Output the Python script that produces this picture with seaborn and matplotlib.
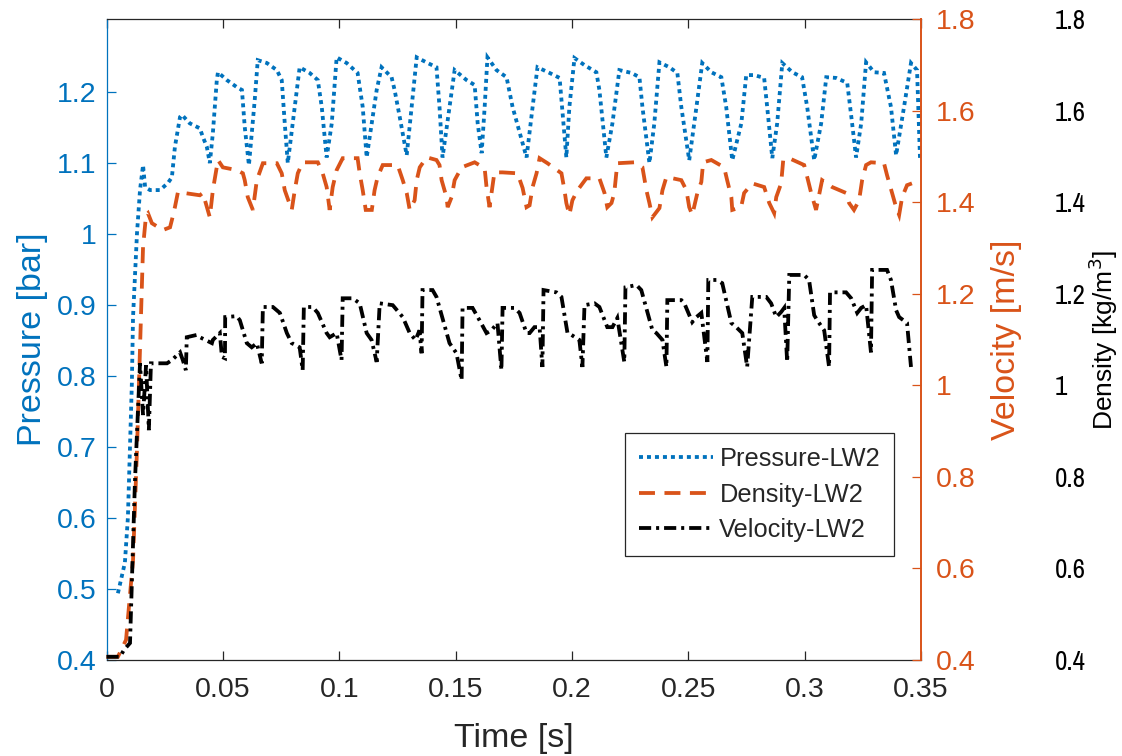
import matplotlib
matplotlib.use("Agg")
import matplotlib.pyplot as plt
import matplotlib.font_manager as fm
from matplotlib.font_manager import FontProperties
import seaborn as sns
import pandas as pd
from matplotlib.ticker import FixedLocator, FixedFormatter

# ---------------- data ----------------
t_pressure = [0.0049, 0.0079, 0.0092, 0.0109, 0.0114, 0.0131, 0.0144, 0.0157, 0.0166, 0.0187,
              0.0230, 0.0264, 0.0281, 0.0294, 0.0316, 0.0324, 0.0358, 0.0401, 0.0414, 0.0431,
              0.0444, 0.0457, 0.0474, 0.0479, 0.0517, 0.0560, 0.0582, 0.0594, 0.0612, 0.0637,
              0.0650, 0.0689, 0.0732, 0.0753, 0.0766, 0.0779, 0.0800, 0.0830, 0.0873, 0.0908,
              0.0925, 0.0946, 0.0968, 0.0989, 0.1032, 0.1079, 0.1101, 0.1118, 0.1161, 0.1182,
              0.1225, 0.1238, 0.1260, 0.1290, 0.1311, 0.1333, 0.1380, 0.1418, 0.1431, 0.1444,
              0.1474, 0.1496, 0.1547, 0.1582, 0.1595, 0.1612, 0.1625, 0.1637, 0.1676, 0.1719,
              0.1745, 0.1805, 0.1831, 0.1852, 0.1904, 0.1947, 0.1976, 0.1989, 0.2011, 0.2054,
              0.2105, 0.2118, 0.2148, 0.2174, 0.2204, 0.2256, 0.2290, 0.2303, 0.2333, 0.2354,
              0.2376, 0.2419, 0.2453, 0.2470, 0.2504, 0.2535, 0.2560, 0.2599, 0.2642, 0.2663,
              0.2689, 0.2728, 0.2749, 0.2783, 0.2826, 0.2839, 0.2861, 0.2882, 0.2904, 0.2947,
              0.2989, 0.3011, 0.3041, 0.3071, 0.3093, 0.3135, 0.3183, 0.3204, 0.3221, 0.3243,
              0.3264, 0.3298, 0.3341, 0.3371, 0.3393, 0.3427, 0.3457, 0.3483, 0.3496]
pressure = [0.494, 0.537, 0.601, 0.790, 0.883, 1.001, 1.062, 1.097, 1.066, 1.062,
            1.062, 1.072, 1.080, 1.123, 1.165, 1.168, 1.156, 1.149, 1.137, 1.123,
            1.100, 1.142, 1.217, 1.228, 1.217, 1.207, 1.203, 1.151, 1.097, 1.189,
            1.245, 1.241, 1.231, 1.217, 1.156, 1.100, 1.156, 1.235, 1.227, 1.217,
            1.179, 1.108, 1.156, 1.249, 1.241, 1.227, 1.179, 1.108, 1.203, 1.235,
            1.221, 1.203, 1.165, 1.111, 1.179, 1.249, 1.241, 1.235, 1.179, 1.108,
            1.179, 1.231, 1.217, 1.210, 1.156, 1.114, 1.179, 1.249, 1.231, 1.221,
            1.179, 1.108, 1.179, 1.235, 1.227, 1.220, 1.108, 1.179, 1.248, 1.238,
            1.228, 1.203, 1.108, 1.156, 1.231, 1.227, 1.221, 1.179, 1.100, 1.156,
            1.242, 1.235, 1.227, 1.179, 1.104, 1.179, 1.241, 1.228, 1.221, 1.179,
            1.104, 1.156, 1.224, 1.224, 1.220, 1.179, 1.107, 1.156, 1.241, 1.228,
            1.221, 1.179, 1.104, 1.156, 1.221, 1.220, 1.213, 1.156, 1.108, 1.156,
            1.242, 1.228, 1.227, 1.179, 1.111, 1.179, 1.241, 1.231, 1.104]

t_density = [0.0000, 0.0049, 0.0084, 0.0114, 0.0131, 0.0144, 0.0157, 0.0170, 0.0178, 0.0195,
             0.0242, 0.0273, 0.0281, 0.0294, 0.0307, 0.0401, 0.0414, 0.0444, 0.0457, 0.0479,
             0.0500, 0.0560, 0.0586, 0.0594, 0.0607, 0.0629, 0.0646, 0.0672, 0.0732, 0.0753,
             0.0766, 0.0796, 0.0809, 0.0822, 0.0843, 0.0908, 0.0929, 0.0946, 0.0959, 0.0972,
             0.0989, 0.1015, 0.1079, 0.1088, 0.1101, 0.1114, 0.1140, 0.1152, 0.1165, 0.1187,
             0.1251, 0.1273, 0.1290, 0.1303, 0.1324, 0.1333, 0.1346, 0.1376, 0.1418, 0.1431,
             0.1440, 0.1461, 0.1466, 0.1483, 0.1496, 0.1526, 0.1582, 0.1625, 0.1633, 0.1646,
             0.1667, 0.1702, 0.1766, 0.1788, 0.1805, 0.1818, 0.1831, 0.1848, 0.1861, 0.1895,
             0.1955, 0.1968, 0.1976, 0.1989, 0.2002, 0.2024, 0.2062, 0.2118, 0.2140, 0.2152,
             0.2170, 0.2182, 0.2195, 0.2268, 0.2303, 0.2320, 0.2333, 0.2346, 0.2376, 0.2389,
             0.2406, 0.2470, 0.2492, 0.2504, 0.2517, 0.2539, 0.2556, 0.2564, 0.2599, 0.2654,
             0.2667, 0.2685, 0.2689, 0.2727, 0.2740, 0.2775, 0.2826, 0.2848, 0.2869, 0.2878,
             0.2899, 0.2908, 0.2933, 0.2998, 0.3011, 0.3028, 0.3049, 0.3075, 0.3118, 0.3178,
             0.3191, 0.3212, 0.3234, 0.3247, 0.3264, 0.3285, 0.3341, 0.3354, 0.3376, 0.3393,
             0.3406, 0.3419, 0.3440, 0.3461]
density = [0.407, 0.407, 0.444, 0.618, 0.859, 1.077, 1.302, 1.372, 1.376, 1.354,
           1.339, 1.345, 1.361, 1.389, 1.422, 1.415, 1.420, 1.367, 1.426, 1.492,
           1.476, 1.470, 1.463, 1.448, 1.411, 1.383, 1.448, 1.485, 1.485, 1.463,
           1.426, 1.383, 1.426, 1.463, 1.487, 1.487, 1.463, 1.433, 1.383, 1.433,
           1.470, 1.496, 1.496, 1.463, 1.426, 1.383, 1.383, 1.426, 1.455, 1.481,
           1.481, 1.448, 1.420, 1.383, 1.404, 1.448, 1.476, 1.498, 1.492, 1.481,
           1.448, 1.411, 1.389, 1.411, 1.448, 1.476, 1.487, 1.474, 1.433, 1.389,
           1.465, 1.465, 1.463, 1.431, 1.389, 1.393, 1.433, 1.463, 1.496, 1.485,
           1.463, 1.426, 1.398, 1.372, 1.404, 1.426, 1.452, 1.452, 1.420, 1.389,
           1.398, 1.420, 1.485, 1.487, 1.476, 1.426, 1.398, 1.367, 1.387, 1.426,
           1.455, 1.448, 1.426, 1.389, 1.372, 1.420, 1.444, 1.487, 1.492, 1.476,
           1.448, 1.411, 1.383, 1.389, 1.420, 1.441, 1.433, 1.398, 1.376, 1.411,
           1.441, 1.492, 1.496, 1.481, 1.455, 1.420, 1.383, 1.448, 1.433, 1.420,
           1.398, 1.383, 1.404, 1.448, 1.481, 1.487, 1.485, 1.459, 1.420, 1.389,
           1.372, 1.411, 1.437, 1.441]

t_velocity = [0.0000, 0.0058, 0.0075, 0.0101, 0.0109, 0.0122, 0.0131, 0.0144, 0.0157, 0.0170,
              0.0182, 0.0191, 0.0260, 0.0281, 0.0316, 0.0328, 0.0341, 0.0345, 0.0388, 0.0401,
              0.0453, 0.0457, 0.0487, 0.0496, 0.0509, 0.0510, 0.0560, 0.0573, 0.0603, 0.0624,
              0.0646, 0.0667, 0.0672, 0.0715, 0.0745, 0.0775, 0.0796, 0.0830, 0.0843, 0.0848,
              0.0886, 0.0908, 0.0946, 0.0959, 0.0989, 0.1010, 0.1015, 0.1058, 0.1088, 0.1118,
              0.1139, 0.1161, 0.1174, 0.1230, 0.1273, 0.1303, 0.1328, 0.1345, 0.1354, 0.1358,
              0.1401, 0.1418, 0.1474, 0.1504, 0.1526, 0.1530, 0.1573, 0.1603, 0.1633, 0.1654,
              0.1680, 0.1697, 0.1702, 0.1753, 0.1775, 0.1805, 0.1818, 0.1839, 0.1861, 0.1873,
              0.1878, 0.1933, 0.1955, 0.1981, 0.1998, 0.2032, 0.2045, 0.2054, 0.2097, 0.2118,
              0.2152, 0.2174, 0.2195, 0.2225, 0.2230, 0.2277, 0.2298, 0.2346, 0.2363, 0.2389,
              0.2406, 0.2410, 0.2470, 0.2483, 0.2517, 0.2535, 0.2556, 0.2582, 0.2586, 0.2624,
              0.2646, 0.2685, 0.2706, 0.2732, 0.2753, 0.2775, 0.2835, 0.2856, 0.2878, 0.2899,
              0.2912, 0.2925, 0.2934, 0.2998, 0.3019, 0.3041, 0.3054, 0.3084, 0.3105, 0.3109,
              0.3178, 0.3200, 0.3226, 0.3243, 0.3264, 0.3285, 0.3290, 0.3354, 0.3371, 0.3393,
              0.3406, 0.3440, 0.3457]
velocity = [0.407, 0.407, 0.422, 0.437, 0.568, 0.786, 0.896, 1.048, 0.935, 1.044,
            0.902, 1.048, 1.048, 1.055, 1.072, 1.055, 1.033, 1.105, 1.110, 1.105,
            1.092, 1.099, 1.114, 1.062, 1.059, 1.149, 1.151, 1.142, 1.092, 1.083,
            1.092, 1.048, 1.171, 1.171, 1.158, 1.114, 1.092, 1.083, 1.033, 1.171,
            1.171, 1.158, 1.114, 1.105, 1.114, 1.055, 1.190, 1.190, 1.179, 1.114,
            1.099, 1.051, 1.179, 1.175, 1.149, 1.114, 1.099, 1.120, 1.070, 1.208,
            1.208, 1.193, 1.092, 1.070, 1.011, 1.169, 1.169, 1.142, 1.114, 1.120,
            1.136, 1.033, 1.169, 1.169, 1.158, 1.114, 1.114, 1.127, 1.127, 1.040,
            1.208, 1.203, 1.193, 1.114, 1.110, 1.099, 1.040, 1.175, 1.179, 1.171,
            1.127, 1.127, 1.147, 1.051, 1.214, 1.219, 1.208, 1.120, 1.114, 1.099,
            1.040, 1.186, 1.186, 1.179, 1.138, 1.149, 1.158, 1.051, 1.230, 1.230,
            1.223, 1.136, 1.127, 1.114, 1.040, 1.193, 1.193, 1.179, 1.149, 1.160,
            1.169, 1.051, 1.241, 1.241, 1.230, 1.153, 1.142, 1.120, 1.040, 1.203,
            1.203, 1.190, 1.158, 1.169, 1.175, 1.072, 1.252, 1.252, 1.230, 1.164,
            1.149, 1.136, 1.040]

series_labels = ["Pressure-LW2", "Density-LW2", "Velocity-LW2"]
x_ticks = [0, 0.05, 0.1, 0.15, 0.2, 0.25, 0.3, 0.35]
x_tick_labels = ["0", "0.05", "0.1", "0.15", "0.2", "0.25", "0.3", "0.35"]
p_ticks = [0.4, 0.5, 0.6, 0.7, 0.8, 0.9, 1.0, 1.1, 1.2]
p_tick_labels = ["0.4", "0.5", "0.6", "0.7", "0.8", "0.9", "1", "1.1", "1.2"]
r_ticks = [0.4, 0.6, 0.8, 1.0, 1.2, 1.4, 1.6, 1.8]
r_tick_labels = ["0.4", "0.6", "0.8", "1", "1.2", "1.4", "1.6", "1.8"]

# ---------------- style ----------------
sns.set_style("white")
plt.rcParams['font.family'] = ['Liberation Sans', 'DejaVu Sans']

BLUE = "#0072BD"
ORANGE = "#D95319"
DARK = "#262626"
PX = 0.72  # points per pixel at dpi 100

# find a narrow / condensed face for the third axis' tick labels
narrow_fp = None
cands = []
for f in fm.fontManager.ttflist:
    nm = f.name
    if ("Narrow" in nm or "Condensed" in nm or str(f.stretch) in ("condensed", "semi-condensed")) \
            and f.style == "normal" and f.weight in (400, "normal", "regular", "book"):
        score = 0 if "Narrow" in nm else 1
        cands.append((score, f.fname))
if cands:
    cands.sort()
    narrow_fp = cands[0][1]

fig = plt.figure(figsize=(11.22, 7.56), dpi=100)
ax = fig.add_axes([106.5 / 1122, 1 - 660 / 756, 814.5 / 1122, 641 / 756])
ax2 = ax.twinx()
ax3 = ax.twinx()

LW = 3.8 * PX
df_p = pd.DataFrame({"t": t_pressure, "y": pressure})
df_d = pd.DataFrame({"t": t_density, "y": density})
df_v = pd.DataFrame({"t": t_velocity, "y": velocity})

sns.lineplot(data=df_p, x="t", y="y", ax=ax, color=BLUE, linewidth=LW,
             sort=False, estimator=None, legend=False)
sns.lineplot(data=df_d, x="t", y="y", ax=ax2, color=ORANGE, linewidth=LW,
             sort=False, estimator=None, legend=False)
sns.lineplot(data=df_v, x="t", y="y", ax=ax3, color="black", linewidth=LW,
             sort=False, estimator=None, legend=False)

l_p = ax.lines[-1]
l_d = ax2.lines[-1]
l_v = ax3.lines[-1]
l_p.set_dashes((1.05, 1.05))
l_d.set_dashes((4.2, 2.5))
l_v.set_dashes((3.2, 1.3, 0.8, 1.3))
for ln in (l_p, l_d, l_v):
    ln.set_dash_capstyle("butt")
    ln.set_dash_joinstyle("miter")

# ---------------- axes ----------------
ax.set_xlim(0, 0.35)
ax.set_ylim(0.4, 1.303)
ax2.set_ylim(0.4, 1.8)
ax3.set_ylim(0.4, 1.8)

ax.xaxis.set_major_locator(FixedLocator(x_ticks))
ax.xaxis.set_major_formatter(FixedFormatter(x_tick_labels))
ax.yaxis.set_major_locator(FixedLocator(p_ticks))
ax.yaxis.set_major_formatter(FixedFormatter(p_tick_labels))
for a in (ax2, ax3):
    a.yaxis.set_major_locator(FixedLocator(r_ticks))
    a.yaxis.set_major_formatter(FixedFormatter(r_tick_labels))

TICK_FS = 20.5
ax.tick_params(axis="x", direction="in", top=True, bottom=True, length=9 * PX,
               width=0.9, color=DARK, labelcolor=DARK, labelsize=TICK_FS, pad=12)
ax.tick_params(axis="y", direction="in", left=True, right=False, length=9 * PX,
               width=0.9, color=BLUE, labelcolor=BLUE, labelsize=TICK_FS, pad=7)
ax2.tick_params(axis="y", direction="in", right=True, length=9 * PX,
                width=0.9, color=ORANGE, labelcolor=ORANGE, labelsize=TICK_FS, pad=11)
ax3.spines["right"].set_position(("outward", 128 * PX))
ax3.tick_params(axis="y", right=True, length=0, labelcolor="black", pad=4)
for lab in ax3.get_yticklabels():
    if narrow_fp:
        lab.set_fontproperties(FontProperties(fname=narrow_fp, size=19.5))
    else:
        lab.set_fontsize(16)

for s in ax.spines.values():
    s.set_linewidth(0.9)
ax.spines["left"].set_color(BLUE)
ax.spines["bottom"].set_color(DARK)
ax.spines["top"].set_color(DARK)
ax.spines["right"].set_visible(False)
for k in ("left", "top", "bottom"):
    ax2.spines[k].set_visible(False)
    ax3.spines[k].set_visible(False)
ax2.spines["right"].set_color(ORANGE)
ax2.spines["right"].set_linewidth(1.4)
ax3.spines["right"].set_visible(False)

LABEL_FS = 24.5
ax.set_xlabel("Time [s]", fontsize=LABEL_FS, color=DARK)
ax.xaxis.set_label_coords(0.5, -0.098)
ax.set_ylabel("Pressure [bar]", fontsize=LABEL_FS, color=BLUE)
ax.yaxis.set_label_coords(-0.072, 0.5)
ax2.set_ylabel("Velocity [m/s]", fontsize=LABEL_FS, color=ORANGE)
ax2.yaxis.set_label_coords(1.086, 0.5)
ax3.set_ylabel("Density [kg/m$^3$]", fontsize=19, color="black")
ax3.yaxis.set_label_coords(1.203, 0.5)

for a in (ax, ax2, ax3):
    a.grid(False)
ax2.patch.set_visible(False)
ax3.patch.set_visible(False)

leg = ax3.legend([l_p, l_d, l_v], series_labels, loc="upper left",
                 bbox_to_anchor=(0.637, 0.354), borderaxespad=0,
                 fontsize=18.3, frameon=True, fancybox=False, framealpha=1,
                 edgecolor=DARK, handlelength=2.9, handletextpad=0.25,
                 labelspacing=0.45, borderpad=0.55)
leg.get_frame().set_linewidth(0.9)

fig.savefig("out.png", dpi=100, facecolor="white")
